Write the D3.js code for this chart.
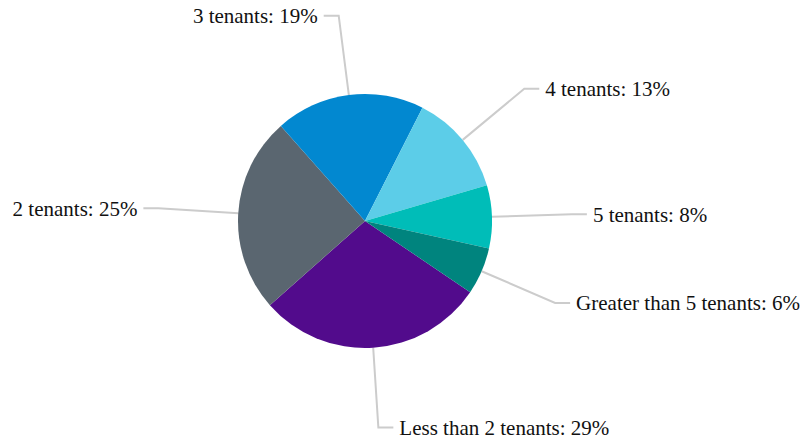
<!DOCTYPE html>
<html>
<head>
<meta charset="utf-8">
<script src="https://cdn.jsdelivr.net/npm/d3@7"></script>
<style>
  html, body { margin: 0; padding: 0; background: #fff; }
</style>
</head>
<body>
<script>
// categories and their shares (%)
var categories = ["Less than 2 tenants", "2 tenants", "3 tenants",
                  "4 tenants", "5 tenants", "Greater than 5 tenants"];
var shares = [29, 25, 19, 13, 8, 6];
// slice colours
var colors = ["#520b8c", "#5a6670", "#0288d0", "#5ccde8", "#00bdb8", "#00847e"];

var w = 803, h = 444;
var cx = 365, cy = 221, r = 127;
var kneeR = 207;  // where the connector bends
var tail = 15;    // horizontal part of the connector

var data = categories.map(function(c, i) {
  return { name: c, value: shares[i], color: colors[i] };
});

var svg = d3.select("body").append("svg")
  .attr("width", w).attr("height", h);

// first slice starts a bit past 4 o'clock, like the original
var startA = 124.1 * Math.PI / 180;
var pie = d3.pie()
  .sort(null)
  .value(function(d) { return d.value; })
  .startAngle(startA)
  .endAngle(startA + 2 * Math.PI);

var arcs = pie(data);
var arc = d3.arc().innerRadius(0).outerRadius(r);

var g = svg.append("g").attr("transform", "translate(" + cx + "," + cy + ")");

// connectors and labels
arcs.forEach(function(a) {
  var m = (a.startAngle + a.endAngle) / 2;
  var sx = Math.sin(m), sy = -Math.cos(m);
  var right = sx >= 0;
  var p0 = [r * sx, r * sy];
  var p1 = [kneeR * sx, kneeR * sy];
  var p2 = [p1[0] + (right ? tail : -tail), p1[1]];
  g.append("path")
    .attr("d", d3.line()([p0, p1, p2]))
    .attr("fill", "none")
    .attr("stroke", "#cccccc")
    .attr("stroke-width", 2);
  g.append("text")
    .attr("x", p2[0] + (right ? 6 : -6))
    .attr("y", p2[1])
    .attr("dy", "0.35em")
    .attr("text-anchor", right ? "start" : "end")
    .style("font-family", "Liberation Serif, serif")
    .style("font-size", "21px")
    .attr("fill", "#111")
    .text(a.data.name + ": " + a.data.value + "%");
});

// slices
g.selectAll("path.slice")
  .data(arcs)
  .enter()
  .append("path")
  .attr("class", "slice")
  .attr("d", arc)
  .attr("fill", function(d) { return d.data.color; });
</script>
</body>
</html>
